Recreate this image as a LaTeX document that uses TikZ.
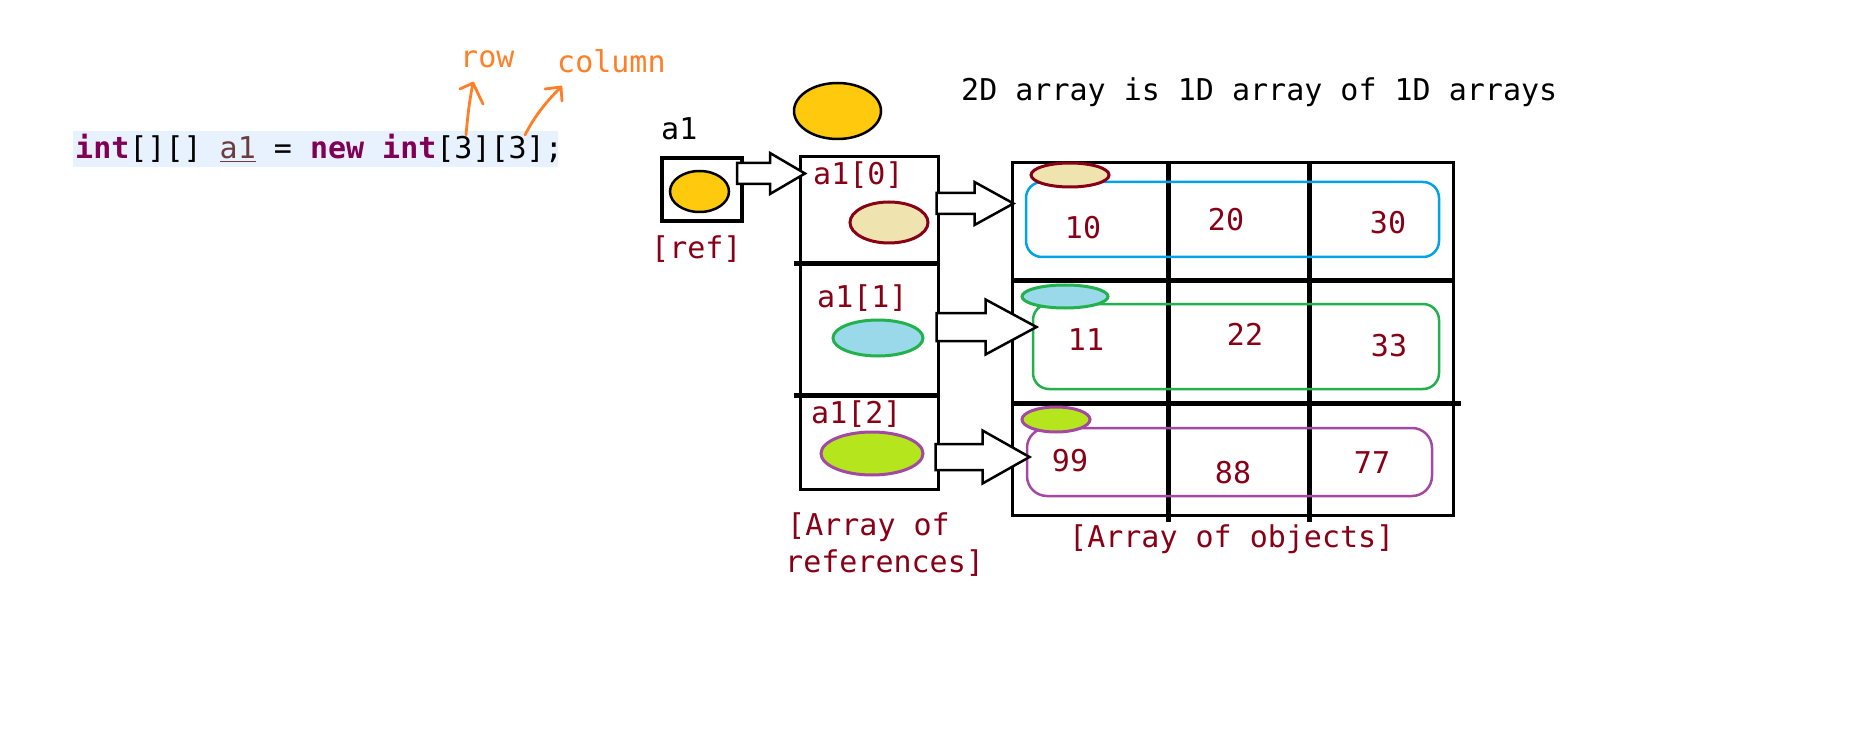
\documentclass[tikz,border=0pt]{standalone}
\usepackage{fontspec}
\setmonofont{DejaVu Sans Mono}
\usetikzlibrary{shapes.geometric,calc}
\definecolor{yel}{HTML}{FFC90E}
\definecolor{beige}{HTML}{EFE4B0}
\definecolor{dred}{HTML}{880015}
\definecolor{lblue}{HTML}{99D9EA}
\definecolor{grn}{HTML}{22B14C}
\definecolor{lime}{HTML}{B5E61D}
\definecolor{purp}{HTML}{A349A4}
\definecolor{skyb}{HTML}{00A2E8}
\definecolor{orng}{HTML}{FF7F27}
\definecolor{kw}{HTML}{7F0055}
\definecolor{varc}{HTML}{6A3E3E}
\definecolor{hl}{HTML}{E8F2FE}
\newcommand\blockarr[5]{% start, shaft half height, head half height, head start, tip
  \draw[barrow,shift={#1}] (0,-#2) -- (#4,-#2) -- (#4,-#3) -- (#5,0) -- (#4,#3) -- (#4,#2) -- (0,#2) -- cycle;}
\begin{document}
\begin{tikzpicture}[x=1pt,y=-1pt,
  txt/.style={font=\ttfamily\fontsize{30}{30}\selectfont, inner sep=0pt, anchor=base west},
  num/.style={font=\ttfamily\fontsize{30}{30}\selectfont, inner sep=0pt, text=dred},
  barrow/.style={draw=black, fill=white, line width=2.5pt, line join=miter},
  oval/.style={ellipse, inner sep=0pt, line width=#1},
  oval/.default=3pt,
  cell/.style={draw=black, line width=3pt, inner sep=0pt},
  divider/.style={line width=5pt},
  orarrow/.style={draw=orng, line width=2.8pt, line cap=round, line join=round},
  group/.style={line width=2.5pt, rounded corners=16pt}]
\useasboundingbox (0,0) rectangle (1852,743);

% code line
\fill[hl] (73,131) rectangle (558,167);
\node[txt] (code) at (75,159) {\textcolor{kw}{\textbf{int}}[][] \textcolor{varc}{\underline{a1}} = \textcolor{kw}{\textbf{new int}}[3][3];};
\node[txt, text=orng] (row) at (460,68) {row};
\node[txt, text=orng] (col) at (557,73) {column};
\coordinate (rs) at (466,135);
\coordinate (cs) at (525,135);
\draw[orarrow] (rs) .. controls (468,112) and (470,98) .. (473,83);
\draw[orarrow] (460,89) -- (473,83) -- (483,104);
\draw[orarrow] (cs) .. controls (535,115) and (548,100) .. (561,87);
\draw[orarrow] (545,89) -- (561,87) -- (562,101);

% title
\node[txt] (title) at (961,101) {2D array is 1D array of 1D arrays};

% a1 reference
\node[oval=2.5pt, draw=black, fill=yel, minimum width=87pt, minimum height=56pt] (bigoval) at (837.5,111) {};
\node[txt] (a1lbl) at (661,140) {a1};
\node[draw=black, line width=4pt, minimum width=80pt, minimum height=63pt, inner sep=0pt] (a1box) at (702,189.5) {};
\node[oval=2.5pt, draw=black, fill=yel, minimum width=59pt, minimum height=41pt] (a1oval) at (699.5,191.5) {};
\node[txt, text=dred] (reflbl) at (651,259) {[ref]};

% array of references
\node[cell, minimum width=138pt, minimum height=333pt] (refbox) at (869.5,323) {};
\draw[divider] ($(refbox.west)+(-5,-59)$) coordinate (d1a) -- (d1a -| refbox.east);
\draw[divider] ($(refbox.west)+(-5,72)$) coordinate (d2a) -- (d2a -| refbox.east);
\node[txt, text=dred] (r0) at (813,185) {a1[0]};
\node[txt, text=dred] (r1) at (817,308) {a1[1]};
\node[txt, text=dred] (r2) at (811,423) {a1[2]};
\node[oval, draw=dred, fill=beige, minimum width=78pt, minimum height=41pt] (e0) at (889,222.5) {};
\node[oval, draw=grn, fill=lblue, minimum width=90pt, minimum height=36pt] (e1) at (878,338) {};
\node[oval, draw=purp, fill=lime, minimum width=102pt, minimum height=43pt] (e2) at (872,453.5) {};
\node[txt, text=dred] (arl1) at (787,535) {[Array of};
\node[txt, text=dred] (arl2) at (785,572) {references]};

% array of objects
\node[cell, minimum width=441pt, minimum height=353pt] (grid) at (1233,339) {};
\draw[divider] (1168,161) -- (1168,522);
\draw[divider] (1309,161) -- (1309,522);
\draw[divider] (grid.west |- 0,281) -- (grid.east |- 0,281);
\draw[divider] (grid.west |- 0,403) -- (1461,403);

\draw[group, draw=skyb] (1026,182) rectangle (1439,257);
\draw[group, draw=grn] (1033,304) rectangle (1439,389);
\draw[group, draw=purp, rounded corners=20pt] (1027,428) rectangle (1432,496);

\node[oval, draw=dred, fill=beige, minimum width=78pt, minimum height=24pt] (s0) at (1070,175) {};
\node[oval, draw=grn, fill=lblue, minimum width=86pt, minimum height=23pt] (s1) at (1065,296.5) {};
\node[oval, draw=purp, fill=lime, minimum width=68pt, minimum height=25pt] (s2) at (1056,419.5) {};

\node[num] (n10) at (1083,228) {10};
\node[num] (n20) at (1226,220) {20};
\node[num] (n30) at (1388,223) {30};
\node[num] (n11) at (1086,339.5) {11};
\node[num] (n22) at (1245,334) {22};
\node[num] (n33) at (1389,345.5) {33};
\node[num] (n99) at (1070,460.5) {99};
\node[num] (n88) at (1233,472.5) {88};
\node[num] (n77) at (1372,462.5) {77};
\node[txt, text=dred] (aol) at (1069,547) {[Array of objects]};

% block arrows
\blockarr{($(a1box.east |- 0,173.5)+(-7,0)$)}{10.5}{20.5}{33}{68}
\blockarr{($(refbox.east |- 0,203.5)+(-3.5,0)$)}{10.5}{21.5}{38}{77}
\blockarr{($(refbox.east |- 0,327)+(-3.5,0)$)}{14}{27.5}{49}{100}
\blockarr{($(refbox.east |- 0,457)+(-4.5,0)$)}{13}{26.5}{47}{94}
\end{tikzpicture}
\end{document}
